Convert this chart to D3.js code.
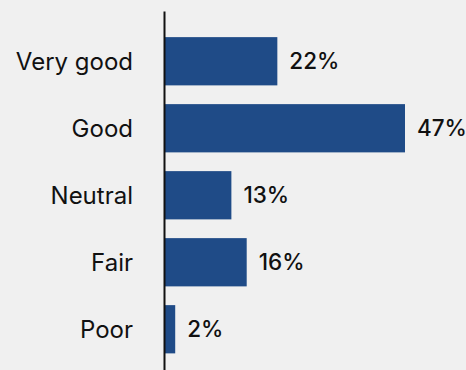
<!DOCTYPE html>
<html>
<head>
<meta charset="utf-8">
<script src="https://cdn.jsdelivr.net/npm/d3@7"></script>
<style>
  html, body { margin: 0; padding: 0; background: #f0f0f0; }
  svg { display: block; }
  text { font-family: Inter, "Noto Sans", sans-serif; }
</style>
</head>
<body>
<svg id="chart" width="466" height="370"></svg>
<script>
// Survey ratings and their shares
const categories = ["Very good", "Good", "Neutral", "Fair", "Poor"];
const shares = [22, 47, 13, 16, 2];

const width = 466, height = 370;
const svg = d3.select("#chart");

svg.append("rect")
  .attr("width", width).attr("height", height)
  .attr("fill", "#f0f0f0");

const x = d3.scaleLinear().domain([0, 47]).range([165, 405]);
const y = d3.scaleBand()
  .domain(categories)
  .range([11, 379.5])
  .paddingInner(0.28)
  .paddingOuter(0.39);

const data = categories.map((c, i) => ({ cat: c, v: shares[i] }));

// Bars
svg.append("g").selectAll("rect")
  .data(data)
  .join("rect")
  .attr("x", x(0))
  .attr("y", d => y(d.cat))
  .attr("width", d => x(d.v) - x(0))
  .attr("height", y.bandwidth())
  .attr("fill", "#1f4b87");

// Value labels
svg.append("g").selectAll("text")
  .data(data)
  .join("text")
  .attr("x", d => x(d.v) + 12)
  .attr("y", d => y(d.cat) + y.bandwidth() / 2)
  .attr("dy", "0.36em")
  .attr("font-size", 22.5)
  .attr("font-weight", 500)
  .attr("fill", "#111")
  .text(d => d.v + "%");

// Category axis
const axis = svg.append("g")
  .attr("transform", "translate(164,0)")
  .call(d3.axisLeft(y).tickSize(0).tickPadding(31));
axis.select(".domain")
  .attr("stroke", "#111")
  .attr("stroke-width", 2);
axis.selectAll(".tick text")
  .attr("font-family", "Inter, 'Noto Sans', sans-serif")
  .attr("font-size", 24)
  .attr("font-weight", 400)
  .attr("dy", "0.36em")
  .attr("fill", "#111");
</script>
</body>
</html>
